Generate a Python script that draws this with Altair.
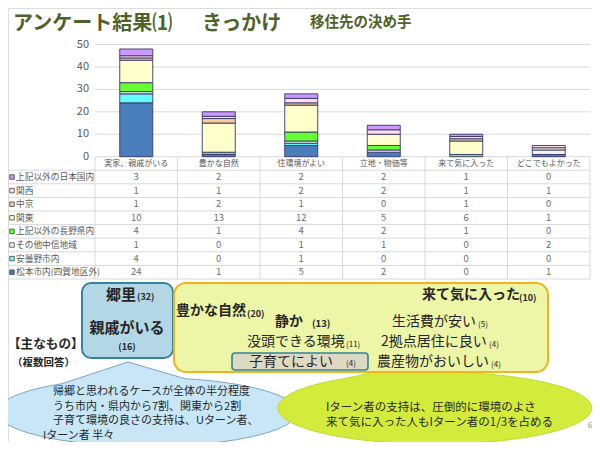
import altair as alt
import pandas as pd

FONT = "Noto Sans CJK JP"

# ---- data ----
categories = ["実家、親戚がいる", "豊かな自然", "住環境がよい", "立地・物価等", "来て気に入った", "どこでもよかった"]
# stack order bottom -> top
series = ["松本市内(四賀地区外)", "安曇野市内", "その他中信地域", "上記以外の長野県内",
          "関東", "中京", "関西", "上記以外の日本国内"]
matsumoto = [24, 1, 5, 2, 0, 1]
azumino = [4, 0, 1, 0, 0, 0]
chushin = [1, 0, 1, 1, 0, 2]
nagano = [4, 1, 4, 2, 1, 0]
kanto = [10, 13, 12, 5, 6, 1]
chukyo = [1, 2, 1, 0, 1, 0]
kansai = [1, 1, 2, 2, 1, 1]
japan = [3, 2, 2, 2, 1, 0]
values = [matsumoto, azumino, chushin, nagano, kanto, chukyo, kansai, japan]
y_ticks = [0, 10, 20, 30, 40, 50]

# ---- styles ----
colors = ["#4A7EBB", "#66FFFF", "#F4F4F4", "#66FF33", "#FFFFCC", "#FFCC99", "#FFDDEE", "#CC99FF"]

rows = []
for i, (s, vals) in enumerate(zip(series, values)):
    for c, v in zip(categories, vals):
        rows.append({"cat": c, "series": s, "order": i, "value": v})
df = pd.DataFrame(rows)
row_order = list(reversed(series))
df_rows = pd.DataFrame({"series": row_order})
df_cats = pd.DataFrame({"cat": categories})
df_ticks = pd.DataFrame({"t": y_ticks})
one = pd.DataFrame({"a": [1]})

O = 8  # page margin
xscale = alt.Scale(domain=categories, range=[95 - O, 590 - O], paddingInner=0, paddingOuter=0)
yscale = alt.Scale(domain=[0, 50], range=[156.7 - O, 44.5 - O], nice=False, zero=True)
rowscale = alt.Scale(type="band", domain=row_order, range=[170.2 - O, 279 - O], paddingInner=0, paddingOuter=0)
cscale = alt.Scale(domain=series, range=colors)
GRID = "#D9D9D9"
LEFT = 8.5

X = alt.X("cat:N", sort=categories, scale=xscale, axis=None)

grid = alt.Chart(df_ticks).mark_rule(color=GRID, strokeWidth=1).encode(
    y=alt.Y("t:Q", scale=yscale, axis=None), x=alt.value(95 - O), x2=alt.value(590 - O))
ticklab = alt.Chart(df_ticks).mark_text(align="right", baseline="middle", fontSize=11, color="#595959", font=FONT).encode(
    y=alt.Y("t:Q", scale=yscale, axis=None), x=alt.value(89 - O), text="t:Q")

bars = alt.Chart(df).transform_filter("datum.value > 0").mark_bar(
    width=33, stroke="#35356A", strokeWidth=0.9).encode(
    x=X,
    y=alt.Y("value:Q", stack="zero", scale=yscale, axis=None),
    color=alt.Color("series:N", scale=cscale, legend=None),
    order=alt.Order("order:Q", sort="ascending"),
)

# table
col_lines = alt.Chart(df_cats).mark_rule(color=GRID).encode(
    x=alt.X("cat:N", sort=categories, scale=xscale, axis=None, bandPosition=0),
    y=alt.value(156.7 - O), y2=alt.value(279 - O))
right_line = alt.Chart(one).mark_rule(color=GRID).encode(
    x=alt.value(590 - O), y=alt.value(156.7 - O), y2=alt.value(279 - O))
left_line = alt.Chart(one).mark_rule(color=GRID).encode(
    x=alt.value(LEFT - O), y=alt.value(170.2 - O), y2=alt.value(279 - O))
row_lines = alt.Chart(df_rows).mark_rule(color=GRID).encode(
    y=alt.Y("series:N", sort=row_order, scale=rowscale, axis=None, bandPosition=0),
    x=alt.value(LEFT - O), x2=alt.value(590 - O))
bottom_line = alt.Chart(one).mark_rule(color=GRID).encode(
    y=alt.value(279 - O), x=alt.value(LEFT - O), x2=alt.value(590 - O))
header = alt.Chart(df_cats).mark_text(fontSize=8, color="#595959", baseline="middle", font=FONT).encode(
    x=X, y=alt.value(163.5 - O), text="cat:N")
cells = alt.Chart(df).mark_text(fontSize=9.5, color="#6E6E6E", baseline="middle", font=FONT).encode(
    x=X, y=alt.Y("series:N", sort=row_order, scale=rowscale, axis=None), text="value:Q")
keys = alt.Chart(df_rows).mark_point(shape="square", size=20, filled=True, stroke="#404040",
                                      strokeWidth=0.8, opacity=1).encode(
    x=alt.value(12 - O), y=alt.Y("series:N", sort=row_order, scale=rowscale, axis=None),
    color=alt.Color("series:N", scale=cscale, legend=None))
rowlab = alt.Chart(df_rows).mark_text(fontSize=8.7, color="#595959", align="left", baseline="middle", font=FONT).encode(
    x=alt.value(16 - O), y=alt.Y("series:N", sort=row_order, scale=rowscale, axis=None), text="series:N")


def txt(s, x, y, size, bold=False, color="#262626", align="left"):
    return alt.Chart(one).mark_text(text=s, fontSize=size, fontWeight="bold" if bold else "normal",
                                    color=color, align=align, baseline="middle", font=FONT).encode(
        x=alt.value(x - O), y=alt.value(y - O))


def box(x1, y1, x2, y2, fill, stroke, sw, r):
    return alt.Chart(one).mark_rect(fill=fill, stroke=stroke, strokeWidth=sw, cornerRadius=r).encode(
        x=alt.value(x1 - O), x2=alt.value(x2 - O), y=alt.value(y1 - O), y2=alt.value(y2 - O))


def callout(path, cx, cy, fill, stroke):
    return alt.Chart(one).mark_point(shape=path, size=4, filled=True, fill=fill, stroke=stroke,
                                     strokeWidth=1, opacity=1).encode(
        x=alt.value(cx - O), y=alt.value(cy - O))


blue_path = "M -85 -28.3 L -19 -50 L 38 -33.3 A 150 34.4 0 1 1 -85 -28.3 Z"
green_path = "M -90 -29.5 L -40 -40 L -10 -35.9 A 157 36 0 1 1 -90 -29.5 Z"

shapes = [
    callout(blue_path, 147, 412, "#C8E6F6", "#7BA5C6"),
    callout(green_path, 435, 408, "#D3EB3A", "#C2DA2E"),
    box(82, 283, 173, 358, "#B3D7E4", "#31859C", 2, 9),
    box(174, 283, 548, 372, "#EDF5A6", "#F0B323", 2, 12),
    box(232, 353, 368, 370, "#DDD9C3", "#31859C", 1.6, 3),
]

TITLE = "#4F6228"
texts = [
    txt("アンケート結果⑴", 13, 24, 20, True, TITLE),
    txt("きっかけ", 202, 24, 20, True, TITLE),
    txt("移住先の決め手", 310, 23, 14.5, True, TITLE),
    txt("【主なもの】", 8, 344, 12.6, True),
    txt("（複数回答）", 12, 363, 10.5, True),
    txt("郷里", 136, 295, 15, True, align="right"),
    txt("(32)", 137, 297, 9, True),
    txt("親戚がいる", 127, 328, 15, True, align="center"),
    txt("(16)", 127, 347, 9, True, align="center"),
    txt("豊かな自然", 176, 311, 14, True),
    txt("(20)", 247, 314, 9, True),
    txt("静か", 275, 322, 14, True),
    txt("(13)", 312, 324, 9.5, True),
    txt("来て気に入った", 422, 295, 14, True),
    txt("(10)", 519, 298, 9, True),
    txt("生活費が安い", 392, 322, 14),
    txt("(5)", 478, 325, 8),
    txt("没頭できる環境", 247, 342, 14),
    txt("(11)", 346, 345, 8),
    txt("2拠点居住に良い", 381, 342, 14),
    txt("(4)", 489, 345, 8),
    txt("子育てによい", 249, 362, 14),
    txt("(4)", 346, 364, 8),
    txt("農産物がおいしい", 377, 362, 14),
    txt("(4)", 491, 365, 8),
    txt("帰郷と思われるケースが全体の半分程度", 53, 392, 11),
    txt("うち市内・県内から7割、関東から2割", 53, 406.5, 11),
    txt("子育て環境の良さの支持は、Uターン者、", 53, 421, 11),
    txt("Iターン者 半々", 43, 435.5, 11),
    txt("Iターン者の支持は、圧倒的に環境のよさ", 326, 408, 11.5),
    txt("来て気に入った人もIターン者の1/3を占める", 326, 423, 11.5),
    txt("6", 590, 426, 8, color="#8C8C8C", align="center"),
]

chart = alt.layer(
    grid, ticklab, col_lines, right_line, left_line, row_lines, bottom_line,
    bars, header, cells, keys, rowlab, *shapes, *texts
).resolve_scale(y="independent").properties(
    width=584, height=434, padding=0, autosize=alt.AutoSizeParams(type="none")
).configure_view(stroke=None).configure(font=FONT, background="white")

chart.save("out.html", embed_options={"renderer": "svg", "actions": False})
